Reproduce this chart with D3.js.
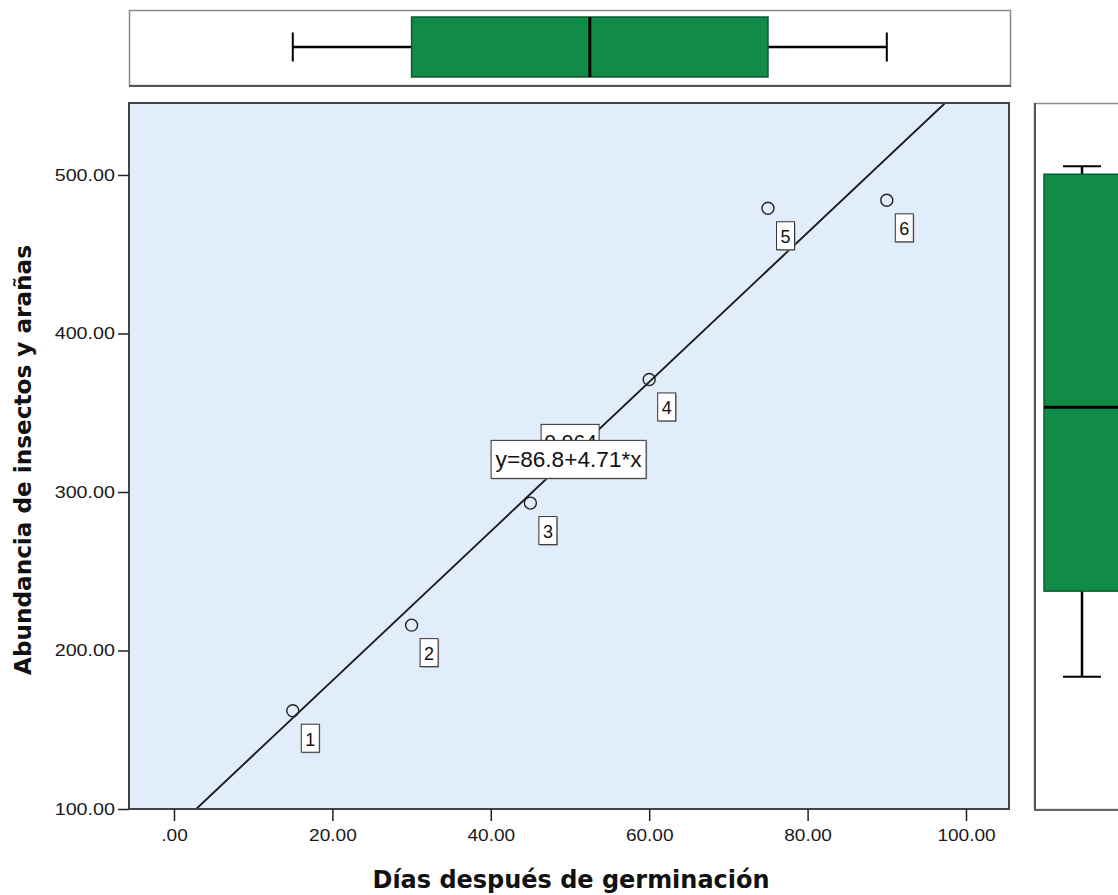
<!DOCTYPE html>
<html>
<head>
<meta charset="utf-8">
<script src="https://cdn.jsdelivr.net/npm/d3@7"></script>
<style>
  body { margin: 0; background: #fff; }
  svg { display: block; }
</style>
</head>
<body>
<svg id="chart" width="1118" height="895"></svg>
<script>
// Observations: days after germination vs. insect/spider abundance
const days = [15, 30, 45, 60, 75, 90];
const abundance = [162, 216, 293, 371, 479, 484];
const caseIds = ["1", "2", "3", "4", "5", "6"];

const xTickValues = [0, 20, 40, 60, 80, 100];
const yTickValues = [100, 200, 300, 400, 500];

// Linear fit shown on the chart
const fitIntercept = 86.8;
const fitSlope = 4.71;
const fitLabel = "y=86.8+4.71*x";
const rSquaredLabel = "0.964";

const xTitle = "Días después de germinación";
const yTitle = "Abundancia de insectos y arañas";

const svg = d3.select("#chart");
const W = 1118, H = 895;
svg.append("rect").attr("width", W).attr("height", H).attr("fill", "#fff");

const plot = { left: 129, top: 103, right: 1009, bottom: 809 };
const topPanel = { left: 129, top: 10, right: 1010, bottom: 85 };
const sidePanel = { left: 1034, top: 103, right: 1140, bottom: 809 };

const x = d3.scaleLinear().domain([-5.68, 105.43]).range([plot.left, plot.right]);
const y = d3.scaleLinear().domain([100, 545.4]).range([plot.bottom, plot.top]);
// the marginal box plot on the right sits slightly higher than the scatter scale
const yBox = y.copy().range([plot.bottom - 34, plot.top - 34]);

const tickFmt = v => v === 0 ? ".00" : d3.format(".2f")(v);
const green = "#108b48";
const greenEdge = "#0b5d30";
const sans = "Liberation Sans, Arial, sans-serif";

// Tukey hinges, as used for the marginal box plots
function boxStats(values) {
  const s = values.slice().sort(d3.ascending);
  const n = s.length;
  const half = Math.floor((n + 1) / 2);
  const q1 = d3.median(s.slice(0, half));
  const q3 = d3.median(s.slice(n - half));
  const med = d3.median(s);
  const iqr = q3 - q1;
  const lo = d3.min(s.filter(v => v >= q1 - 1.5 * iqr));
  const hi = d3.max(s.filter(v => v <= q3 + 1.5 * iqr));
  return { q1, q3, med, lo, hi };
}

function stretch(sel, k) {
  sel.each(function () {
    const w = this.getComputedTextLength();
    d3.select(this).attr("textLength", w * k).attr("lengthAdjust", "spacingAndGlyphs");
  });
}

// ---------- top marginal box plot (days) ----------
const tp = svg.append("g");
tp.append("rect")
  .attr("x", topPanel.left + 0.5).attr("y", topPanel.top + 0.5)
  .attr("width", topPanel.right - topPanel.left).attr("height", topPanel.bottom - topPanel.top)
  .attr("fill", "#fff").attr("stroke", "#8a8a8a").attr("stroke-width", 1.5);
tp.append("line")
  .attr("x1", topPanel.left).attr("x2", topPanel.right + 1)
  .attr("y1", topPanel.bottom + 1).attr("y2", topPanel.bottom + 1)
  .attr("stroke", "#555").attr("stroke-width", 2);

const bx = boxStats(days);
const tMid = 47, tBoxTop = 17, tBoxBot = 77, tCap = 14.5;
tp.append("line").attr("x1", x(bx.lo)).attr("x2", x(bx.q1)).attr("y1", tMid).attr("y2", tMid)
  .attr("stroke", "#000").attr("stroke-width", 2.5);
tp.append("line").attr("x1", x(bx.q3)).attr("x2", x(bx.hi)).attr("y1", tMid).attr("y2", tMid)
  .attr("stroke", "#000").attr("stroke-width", 2.5);
[bx.lo, bx.hi].forEach(v => {
  tp.append("line").attr("x1", x(v)).attr("x2", x(v)).attr("y1", tMid - tCap).attr("y2", tMid + tCap)
    .attr("stroke", "#000").attr("stroke-width", 2);
});
tp.append("rect")
  .attr("x", x(bx.q1)).attr("y", tBoxTop)
  .attr("width", x(bx.q3) - x(bx.q1)).attr("height", tBoxBot - tBoxTop)
  .attr("fill", green).attr("stroke", greenEdge).attr("stroke-width", 1.5);
tp.append("line").attr("x1", x(bx.med)).attr("x2", x(bx.med)).attr("y1", tBoxTop).attr("y2", tBoxBot)
  .attr("stroke", "#000").attr("stroke-width", 3);

// ---------- right marginal box plot (abundance) ----------
const sp = svg.append("g");
sp.append("rect")
  .attr("x", sidePanel.left + 0.5).attr("y", sidePanel.top + 0.5)
  .attr("width", sidePanel.right - sidePanel.left).attr("height", sidePanel.bottom - sidePanel.top)
  .attr("fill", "#fff").attr("stroke", "#8a8a8a").attr("stroke-width", 1.5);
sp.append("line")
  .attr("x1", sidePanel.left + 1).attr("x2", sidePanel.left + 1)
  .attr("y1", sidePanel.top).attr("y2", sidePanel.bottom + 1)
  .attr("stroke", "#555").attr("stroke-width", 2);
sp.append("line")
  .attr("x1", sidePanel.left).attr("x2", sidePanel.right)
  .attr("y1", sidePanel.bottom + 1).attr("y2", sidePanel.bottom + 1)
  .attr("stroke", "#666").attr("stroke-width", 2);

const by = boxStats(abundance);
const sMid = 1082, sBoxL = 1044, sBoxR = 1120, sCap = 19;
sp.append("line").attr("x1", sMid).attr("x2", sMid).attr("y1", yBox(by.lo)).attr("y2", yBox(by.q1))
  .attr("stroke", "#000").attr("stroke-width", 2.5);
sp.append("line").attr("x1", sMid).attr("x2", sMid).attr("y1", yBox(by.q3)).attr("y2", yBox(by.hi))
  .attr("stroke", "#000").attr("stroke-width", 2.5);
[by.lo, by.hi].forEach(v => {
  sp.append("line").attr("x1", sMid - sCap).attr("x2", sMid + sCap).attr("y1", yBox(v)).attr("y2", yBox(v))
    .attr("stroke", "#000").attr("stroke-width", 2);
});
sp.append("rect")
  .attr("x", sBoxL).attr("y", yBox(by.q3))
  .attr("width", sBoxR - sBoxL).attr("height", yBox(by.q1) - yBox(by.q3))
  .attr("fill", green).attr("stroke", greenEdge).attr("stroke-width", 1.5);
sp.append("line").attr("x1", sBoxL).attr("x2", sBoxR).attr("y1", yBox(by.med)).attr("y2", yBox(by.med))
  .attr("stroke", "#000").attr("stroke-width", 3);

// ---------- main scatter panel ----------
svg.append("defs").append("clipPath").attr("id", "plotClip")
  .append("rect").attr("x", plot.left).attr("y", plot.top)
  .attr("width", plot.right - plot.left).attr("height", plot.bottom - plot.top);

svg.append("rect")
  .attr("x", plot.left).attr("y", plot.top)
  .attr("width", plot.right - plot.left).attr("height", plot.bottom - plot.top)
  .attr("fill", "#e1edfb");

// fit line
const fit = v => fitIntercept + fitSlope * v;
const xd = x.domain();
svg.append("line")
  .attr("clip-path", "url(#plotClip)")
  .attr("x1", x(xd[0])).attr("y1", y(fit(xd[0])))
  .attr("x2", x(xd[1])).attr("y2", y(fit(xd[1])))
  .attr("stroke", "#1a1a1a").attr("stroke-width", 1.9);

// points
const pts = days.map((d, i) => ({ x: d, y: abundance[i], id: caseIds[i] }));
svg.append("g").selectAll("circle").data(pts).join("circle")
  .attr("cx", d => x(d.x)).attr("cy", d => y(d.y)).attr("r", 6)
  .attr("fill", "none").attr("stroke", "#222").attr("stroke-width", 1.4);

// case labels
const lab = svg.append("g").selectAll("g").data(pts).join("g")
  .attr("transform", d => `translate(${x(d.x) + 8},${y(d.y) + 13})`);
lab.append("rect").attr("x", 1.5).attr("y", 1.5).attr("width", 18).attr("height", 28).attr("fill", "#9a9a9a");
lab.append("rect").attr("x", 0.5).attr("y", 0.5).attr("width", 18).attr("height", 28)
  .attr("fill", "#fff").attr("stroke", "#333").attr("stroke-width", 1);
lab.append("text").attr("x", 9.5).attr("y", 22).attr("text-anchor", "middle")
  .attr("font-family", sans).attr("font-size", 19)
  .attr("fill", "#111").attr("textLength", 10).attr("lengthAdjust", "spacingAndGlyphs")
  .text(d => d.id);

// fit labels (R² box partly hidden behind the equation box)
const anchorX = 49.7;
const cx = x(anchorX), cy = y(fit(anchorX));
const r2 = svg.append("g").attr("transform", `translate(${cx - 27},${cy - 35})`);
r2.append("rect").attr("x", 0.5).attr("y", 0.5).attr("width", 58).attr("height", 30)
  .attr("fill", "#fff").attr("stroke", "#333");
r2.append("text").attr("x", 30).attr("y", 25).attr("text-anchor", "middle")
  .attr("font-family", sans).attr("font-size", 21)
  .attr("fill", "#111").text(rSquaredLabel);

const eq = svg.append("g").attr("transform", `translate(${cx - 77},${cy - 19})`);
eq.append("rect").attr("x", 1.5).attr("y", 1.5).attr("width", 155).attr("height", 38).attr("fill", "#999");
eq.append("rect").attr("x", 0.5).attr("y", 0.5).attr("width", 155).attr("height", 38)
  .attr("fill", "#fff").attr("stroke", "#333");
eq.append("text").attr("x", 78).attr("y", 27).attr("text-anchor", "middle")
  .attr("font-family", sans).attr("font-size", 22)
  .attr("fill", "#111").attr("textLength", 146).attr("lengthAdjust", "spacingAndGlyphs")
  .text(fitLabel);

// frame
svg.append("rect")
  .attr("x", plot.left).attr("y", plot.top)
  .attr("width", plot.right - plot.left).attr("height", plot.bottom - plot.top)
  .attr("fill", "none").attr("stroke", "#444").attr("stroke-width", 2);

// axes
const gx = svg.append("g").attr("transform", `translate(0,${plot.bottom})`)
  .call(d3.axisBottom(x).tickValues(xTickValues).tickSize(12).tickPadding(8).tickFormat(tickFmt));
gx.select(".domain").remove();
gx.selectAll(".tick line").attr("stroke", "#222").attr("stroke-width", 1.5);
gx.selectAll("text").attr("font-family", sans).attr("font-size", 17).attr("fill", "#1a1a1a");
stretch(gx.selectAll("text"), 1.12);

const gy = svg.append("g").attr("transform", `translate(${plot.left},0)`)
  .call(d3.axisLeft(y).tickValues(yTickValues).tickSize(11).tickPadding(3).tickFormat(tickFmt));
gy.select(".domain").remove();
gy.selectAll(".tick line").attr("stroke", "#222").attr("stroke-width", 1.5);
gy.selectAll("text").attr("font-family", sans).attr("font-size", 17).attr("fill", "#1a1a1a");
stretch(gy.selectAll("text"), 1.16);

// titles
svg.append("text").attr("x", 571).attr("y", 888).attr("text-anchor", "middle")
  .attr("font-family", "DejaVu Sans, sans-serif").attr("font-weight", "bold").attr("font-size", 24)
  .attr("fill", "#111").attr("textLength", 397).attr("lengthAdjust", "spacingAndGlyphs")
  .text(xTitle);
svg.append("text").attr("transform", "translate(31,460) rotate(-90)").attr("text-anchor", "middle")
  .attr("font-family", "DejaVu Sans, sans-serif").attr("font-weight", "bold").attr("font-size", 23)
  .attr("fill", "#111").attr("textLength", 430).attr("lengthAdjust", "spacingAndGlyphs")
  .text(yTitle);
</script>
</body>
</html>
